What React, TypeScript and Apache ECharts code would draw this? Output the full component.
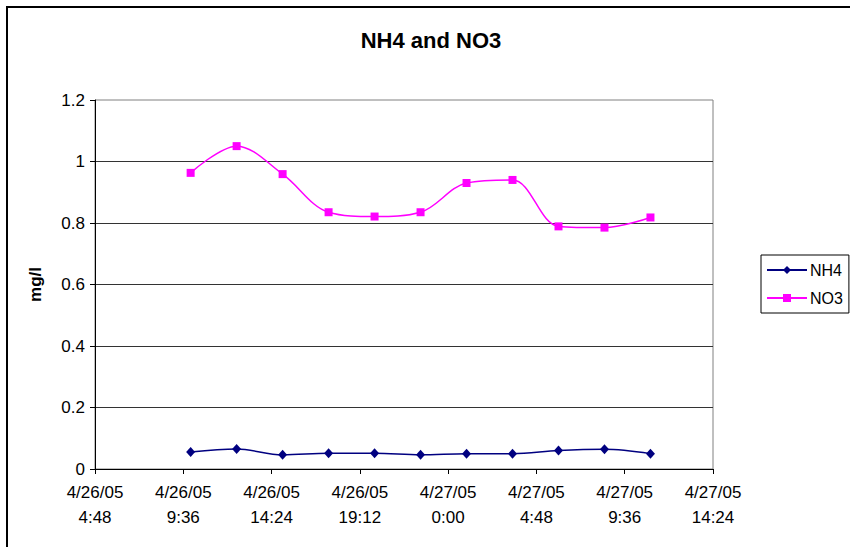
import * as echarts from "echarts";
import { useEffect, useRef } from "react";

const times = [
  "4/26/05 10:00",
  "4/26/05 12:30",
  "4/26/05 15:00",
  "4/26/05 17:30",
  "4/26/05 20:00",
  "4/26/05 22:30",
  "4/27/05 1:00",
  "4/27/05 3:30",
  "4/27/05 6:00",
  "4/27/05 8:30",
  "4/27/05 11:00"
];
const nh4 = [0.055, 0.065, 0.046, 0.051, 0.051, 0.046, 0.05, 0.05, 0.06, 0.064, 0.05];
const no3 = [0.963, 1.05, 0.959, 0.835, 0.821, 0.835, 0.93, 0.94, 0.789, 0.785, 0.818];

// x axis in minutes since 4/26/05 0:00, ticks every 4.8 h
const xMin = 288;
const xMax = 2304;
const xStep = 288;

const font = "Liberation Sans, Arial, sans-serif";

function toMinutes(label: string) {
  const [date, time] = label.split(" ");
  const day = Number(date.split("/")[1]) - 26;
  const [h, m] = time.split(":").map(Number);
  return day * 1440 + h * 60 + m;
}

function tickLabel(value: number) {
  const day = Math.floor(value / 1440);
  const rest = Math.round(value - day * 1440);
  const h = Math.floor(rest / 60);
  const m = rest % 60;
  return `4/${26 + day}/05\n${h}:${String(m).padStart(2, "0")}`;
}

export default function App() {
  const ref = useRef<HTMLDivElement | null>(null);

  useEffect(() => {
    if (!ref.current) {
      return;
    }
    const chart = echarts.init(ref.current, undefined, { renderer: "svg" });
    chart.setOption({
      animation: false,
      backgroundColor: "#fff",
      graphic: [
        {
          type: "rect",
          shape: { x: 7, y: 7, width: 900, height: 600 },
          style: { fill: "none", stroke: "#000", lineWidth: 2 },
          z: -1
        },
        {
          type: "text",
          x: 431,
          y: 40,
          style: {
            text: "NH4 and NO3",
            fill: "#000",
            font: `bold 22px ${font}`,
            textAlign: "center",
            textVerticalAlign: "middle"
          }
        }
      ],
      grid: {
        left: 95,
        right: 137,
        top: 100,
        bottom: 78,
        show: true,
        borderColor: "#808080",
        borderWidth: 1
      },
      legend: {
        orient: "vertical",
        left: 761,
        top: 255,
        padding: [7, 6, 7, 5],
        itemGap: 12,
        itemWidth: 40,
        itemHeight: 10,
        borderColor: "#000",
        borderWidth: 1,
        textStyle: { fontFamily: font, fontSize: 16, color: "#000", padding: [0, 0, 0, -2] },
        data: ["NH4", "NO3"]
      },
      xAxis: {
        type: "value",
        min: xMin,
        max: xMax,
        interval: xStep,
        axisLine: { show: true, lineStyle: { color: "#000", width: 1 } },
        axisTick: { show: true, length: 5, lineStyle: { color: "#000" } },
        splitLine: { show: false },
        axisLabel: {
          formatter: tickLabel,
          fontFamily: font,
          fontSize: 17,
          color: "#000",
          lineHeight: 25,
          margin: 11
        }
      },
      yAxis: {
        type: "value",
        min: 0,
        max: 1.2,
        interval: 0.2,
        name: "mg/l",
        nameLocation: "middle",
        nameRotate: 90,
        nameGap: 51,
        nameTextStyle: { fontFamily: font, fontSize: 17, fontWeight: "bold", color: "#000" },
        axisLine: { show: true, lineStyle: { color: "#000", width: 1 } },
        axisTick: { show: true, length: 5, lineStyle: { color: "#000" } },
        splitLine: { show: true, showMaxLine: false, lineStyle: { color: "#333", width: 1 } },
        axisLabel: { fontFamily: font, fontSize: 17, color: "#000", margin: 10 }
      },
      series: [
        {
          name: "NH4",
          type: "line",
          data: times.map((t, i) => [toMinutes(t), nh4[i]]),
          smooth: 0.35,
          symbol: "diamond",
          symbolSize: [9, 10],
          itemStyle: { color: "#000080" },
          lineStyle: { color: "#000080", width: 1.5 }
        },
        {
          name: "NO3",
          type: "line",
          data: times.map((t, i) => [toMinutes(t), no3[i]]),
          smooth: 0.35,
          symbol: "rect",
          symbolSize: 8,
          itemStyle: { color: "#ff00ff" },
          lineStyle: { color: "#ff00ff", width: 1.5 }
        }
      ]
    });
    return () => {
      chart.dispose();
    };
  }, []);

  return <div ref={ref} style={{ position: "absolute", left: 0, top: 0, width: 850, height: 547 }} />;
}
